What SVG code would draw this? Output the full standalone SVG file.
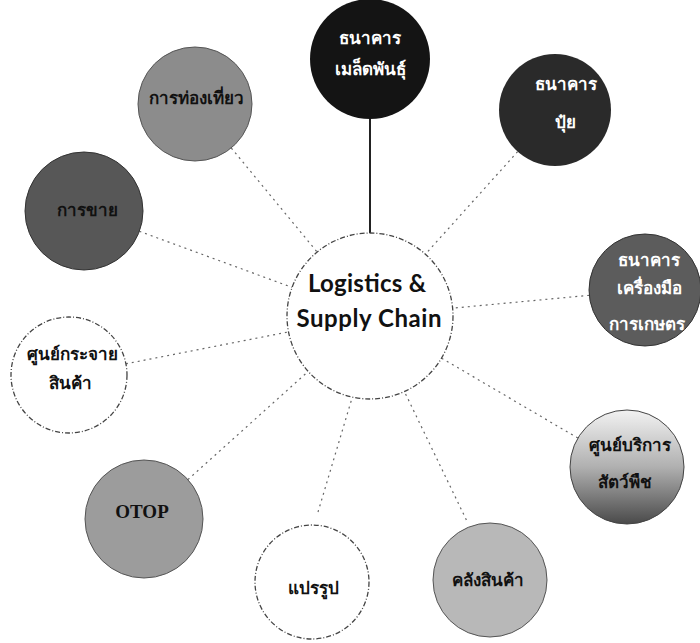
<svg xmlns="http://www.w3.org/2000/svg" width="700" height="643" viewBox="0 0 700 643">
<defs>
<style>
.th{font-family:"Noto Sans","DejaVu Sans","Noto Sans CJK SC",sans-serif;font-weight:bold;font-size:17px;text-anchor:middle}
.wt{fill:#ffffff}
.bk{fill:#111111}
.conn{stroke:#666;stroke-width:1.2;stroke-dasharray:2 4;fill:none}
.ring{stroke:#444;stroke-width:1.3;stroke-dasharray:5 2 1 2}
</style>
<linearGradient id="svc" x1="0" y1="0" x2="0" y2="1">
<stop offset="0" stop-color="#f2f2f2"/>
<stop offset="0.5" stop-color="#b0b0b0"/>
<stop offset="1" stop-color="#4a4a4a"/>
</linearGradient>
</defs>
<rect width="700" height="643" fill="#ffffff"/>
<g id="connectors">
<line x1="370" y1="119" x2="370" y2="233" stroke="#222" stroke-width="2"/>
<line class="conn" x1="517.6" y1="151.7" x2="425.4" y2="254.2"/>
<line class="conn" x1="231.3" y1="148" x2="317.1" y2="252"/>
<line class="conn" x1="139.4" y1="231.3" x2="292.1" y2="287.4"/>
<line class="conn" x1="589.2" y1="295.3" x2="452.6" y2="308.2"/>
<line class="conn" x1="125.9" y1="363.8" x2="288.6" y2="331.9"/>
<line class="conn" x1="577.9" y1="438.1" x2="441.5" y2="358.1"/>
<line class="conn" x1="187.9" y1="479.6" x2="308.2" y2="371.4"/>
<line class="conn" x1="318" y1="512" x2="352.3" y2="397.1"/>
<line class="conn" x1="466.4" y1="520" x2="404.4" y2="391.5"/>
</g>
<g id="center">
<circle cx="370" cy="316" r="83" fill="#fff" class="ring"/>
<text x="367" y="292" font-family="Lato,'Open Sans',sans-serif" font-weight="bold" font-size="24" text-anchor="middle" fill="#111" textLength="118">Logistics &amp;</text>
<text x="369" y="327" font-family="Lato,'Open Sans',sans-serif" font-weight="bold" font-size="24" text-anchor="middle" fill="#111" textLength="145">Supply Chain</text>
</g>
<g id="seed-bank">
<circle cx="370" cy="59" r="60" fill="#141414"/>
<text class="th wt" x="370" y="44" font-size="19">ธนาคาร</text>
<text class="th wt" x="370" y="75" font-size="20">เมล็ดพันธุ์</text>
</g>
<g id="fertilizer-bank">
<circle cx="555" cy="110" r="56" fill="#2a2a2a"/>
<text class="th wt" x="566" y="90" font-size="16">ธนาคาร</text>
<text class="th wt" x="565" y="128" font-size="17">ปุ๋ย</text>
</g>
<g id="tourism">
<circle cx="195" cy="104" r="57" fill="#8c8c8c" stroke="#555" stroke-width="1"/>
<text class="th bk" x="196" y="104" font-size="17.5">การท่องเที่ยว</text>
</g>
<g id="sales">
<circle cx="84" cy="211" r="59" fill="#575757" stroke="#333" stroke-width="1"/>
<text class="th bk" x="87" y="216">การขาย</text>
</g>
<g id="tool-bank">
<circle cx="645" cy="290" r="56" fill="#5c5c5c" stroke="#333" stroke-width="1"/>
<text class="th wt" x="649" y="266">ธนาคาร</text>
<text class="th wt" x="649" y="294">เครื่องมือ</text>
<text class="th wt" x="647" y="330">การเกษตร</text>
</g>
<g id="distribution-center">
<circle cx="69" cy="375" r="58" fill="#fff" class="ring"/>
<text class="th bk" x="72" y="360" font-size="17">ศูนย์กระจาย</text>
<text class="th bk" x="70" y="389">สินค้า</text>
</g>
<g id="service-center">
<circle cx="627" cy="467" r="57" fill="url(#svc)" stroke="#444" stroke-width="1"/>
<text class="th bk" x="630" y="451" font-size="18">ศูนย์บริการ</text>
<text class="th bk" x="625" y="488" font-size="18">สัตว์พืช</text>
</g>
<g id="otop">
<circle cx="144" cy="519" r="59" fill="#9c9c9c" stroke="#555" stroke-width="1"/>
<text x="142" y="518" font-family="'Liberation Serif',serif" font-weight="bold" font-size="19" text-anchor="middle" fill="#111">OTOP</text>
</g>
<g id="processing">
<circle cx="312" cy="582" r="57" fill="#fff" class="ring"/>
<text class="th bk" x="313" y="594" font-size="19">แปรรูป</text>
</g>
<g id="warehouse">
<circle cx="490" cy="580" r="57" fill="#b8b8b8" stroke="#555" stroke-width="1"/>
<text class="th bk" x="488" y="586" font-size="19">คลังสินค้า</text>
</g>
</svg>
